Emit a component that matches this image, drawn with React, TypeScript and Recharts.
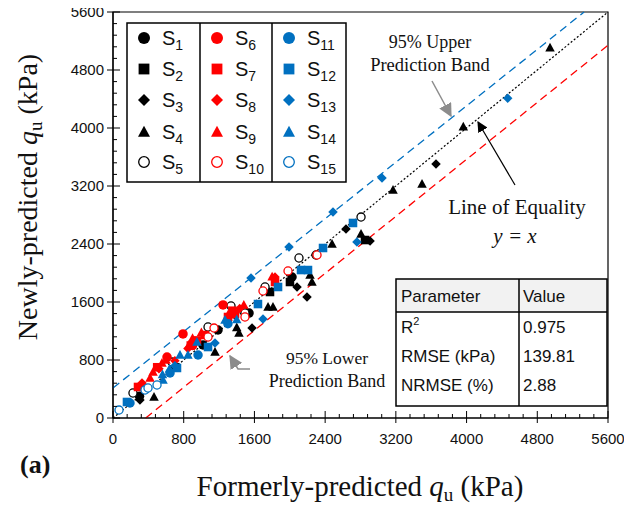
import React from "react";
import {
  ScatterChart,
  Scatter,
  XAxis,
  YAxis,
  ReferenceLine,
  ReferenceArea,
} from "recharts";

// values (kPa): [formerly, newly]
const S1 = [[2025, 1945], [1539, 1448], [1188, 1214], [1018, 1007], [300, 300]];
const S2 = [[2002, 1876], [1776, 1738], [2851, 2455], [700, 700]];
const S3 = [[305, 248], [1573, 1241], [2195, 1669], [2082, 1807], [2636, 2607], [3654, 3503], [2908, 2440]];
const S4 = [
  [464, 290], [1154, 910], [1425, 1172], [1400, 1250], [1754, 1531], [1810, 1531], [2229, 1972],
  [2251, 1876], [2478, 2400], [2806, 2538], [3168, 3145], [3496, 3228], [3963, 4018], [4944, 5108],
];
const S5 = [[226, 345], [667, 772], [1075, 1255], [1335, 1545], [1493, 1448], [1720, 1807], [2104, 2207], [2297, 2248], [2806, 2772]];
const S6 = [[792, 1159], [611, 841], [1245, 1559], [900, 1000]];
const S7 = [[283, 428], [1301, 1393], [1380, 1434], [1833, 1876], [950, 1070], [1040, 1145], [880, 1000], [500, 700], [1350, 1480]];
const S8 = [[328, 483], [848, 960], [1433, 1510], [1833, 1945], [700, 790], [930, 1060], [520, 680]];
const S9 = [[419, 552], [453, 634], [554, 759], [1480, 1560], [900, 1100], [1000, 1180], [1800, 1950], [860, 1010], [600, 800], [1300, 1420]];
const S10 = [[1143, 1241], [1075, 1117], [1493, 1393], [1697, 1752], [1980, 2028], [2308, 2248]];
const S11 = [[192, 207], [645, 621], [962, 869], [1300, 1300]];
const S12 = [[158, 221], [724, 690], [1640, 1572], [1867, 1807], [2127, 2041], [2206, 2041], [2376, 2345], [2715, 2690], [1075, 979]];
const S13 = [[1561, 1931], [1991, 2359], [2489, 2841], [3043, 3310], [4465, 4410], [2760, 2428], [1697, 1366], [1154, 1034], [700, 720]];
const S14 = [[848, 869], [758, 869], [1267, 1352], [1400, 1360], [566, 524], [950, 1048], [560, 600], [640, 680]];
const S15 = [[68, 110], [362, 386], [396, 414], [498, 455]];

const equalityLine = [[0, 0], [5600, 5600]];
const upperBand = [[0, 414], [5330, 5600]];
const lowerBand = [[370, 0], [5600, 5140]];

const tableHead = ["Parameter", "Value"];
const tableParams = ["R", "RMSE (kPa)", "NRMSE (%)"];
const tableValues = ["0.975", "139.81", "2.88"];

const BLACK = "#000000";
const RED = "#ff0000";
const BLUE = "#0070c0";

type Kind = "circle" | "square" | "diamond" | "triangle" | "open";

const series: { name: string; sub: string; data: number[][]; kind: Kind; color: string }[] = [
  { name: "S", sub: "1", data: S1, kind: "circle", color: BLACK },
  { name: "S", sub: "2", data: S2, kind: "square", color: BLACK },
  { name: "S", sub: "3", data: S3, kind: "diamond", color: BLACK },
  { name: "S", sub: "4", data: S4, kind: "triangle", color: BLACK },
  { name: "S", sub: "5", data: S5, kind: "open", color: BLACK },
  { name: "S", sub: "6", data: S6, kind: "circle", color: RED },
  { name: "S", sub: "7", data: S7, kind: "square", color: RED },
  { name: "S", sub: "8", data: S8, kind: "diamond", color: RED },
  { name: "S", sub: "9", data: S9, kind: "triangle", color: RED },
  { name: "S", sub: "10", data: S10, kind: "open", color: RED },
  { name: "S", sub: "11", data: S11, kind: "circle", color: BLUE },
  { name: "S", sub: "12", data: S12, kind: "square", color: BLUE },
  { name: "S", sub: "13", data: S13, kind: "diamond", color: BLUE },
  { name: "S", sub: "14", data: S14, kind: "triangle", color: BLUE },
  { name: "S", sub: "15", data: S15, kind: "open", color: BLUE },
];

const toPts = (arr: number[][]) => arr.map(([x, y]) => ({ x, y }));

const allTicks: number[] = [];
for (let v = 0; v <= 5600; v += 160) allTicks.push(v);

const SANS = "'Liberation Sans', Arial, sans-serif";
const SERIF = "'Liberation Serif', 'Times New Roman', serif";

function Marker({ kind, color, cx, cy, s }: { kind: Kind; color: string; cx: number; cy: number; s: number }) {
  const h = s / 2;
  switch (kind) {
    case "circle":
      return <circle cx={cx} cy={cy} r={h} fill={color} />;
    case "square":
      return <rect x={cx - h * 0.9} y={cy - h * 0.9} width={s * 0.9} height={s * 0.9} fill={color} />;
    case "diamond":
      return (
        <polygon
          points={`${cx},${cy - h} ${cx + h},${cy} ${cx},${cy + h} ${cx - h},${cy}`}
          fill={color}
        />
      );
    case "triangle":
      return (
        <polygon
          points={`${cx},${cy - h * 1.05} ${cx + h},${cy + h * 0.8} ${cx - h},${cy + h * 0.8}`}
          fill={color}
        />
      );
    default:
      return <circle cx={cx} cy={cy} r={h - 0.7} fill="#fff" stroke={color} strokeWidth={1.3} />;
  }
}

function XTick(props: any) {
  const { x, y, payload } = props;
  const v = payload.value;
  const major = v % 800 === 0;
  return (
    <g>
      <line x1={x} x2={x} y1={major ? y + 5 : y} y2={major ? y - 7 : y - 4} stroke={BLACK} strokeWidth={1} />
      {major && (
        <text x={x} y={y + 26} textAnchor="middle" fontFamily={SANS} fontSize={15} fill="#111">
          {v}
        </text>
      )}
    </g>
  );
}

function YTick(props: any) {
  const { x, y, payload } = props;
  const v = payload.value;
  const major = v % 800 === 0;
  return (
    <g>
      <line x1={major ? x - 6 : x} x2={major ? x + 7 : x + 4} y1={y} y2={y} stroke={BLACK} strokeWidth={1} />
      {major && (
        <text x={x - 9} y={y + 5} textAnchor="end" fontFamily={SANS} fontSize={15} fill="#111">
          {v}
        </text>
      )}
    </g>
  );
}

// overlay uses page coordinates minus the 8px body margin
function Overlay() {
  const colX = [119, 192, 264];
  const rowY = [30, 61, 92, 124, 154];
  return (
    <svg
      width={616}
      height={503}
      style={{ position: "absolute", left: 8, top: 8, pointerEvents: "none", overflow: "visible" }}
    >
      <defs>
        <marker id="arrGray" viewBox="0 0 10 10" refX="9" refY="5" markerWidth="9" markerHeight="9" orient="auto">
          <path d="M0,0 L10,5 L0,10 z" fill="#8c8c8c" />
        </marker>
        <marker id="arrBlack" viewBox="0 0 10 10" refX="9" refY="5" markerWidth="9" markerHeight="9" orient="auto">
          <path d="M0,0 L10,5 L0,10 z" fill={BLACK} />
        </marker>
      </defs>

      {/* legend */}
      <rect x={119} y={15} width={219} height={159} fill="#fff" stroke={BLACK} strokeWidth={1.5} />
      <line x1={192} x2={192} y1={15} y2={174} stroke={BLACK} strokeWidth={1.5} />
      <line x1={264} x2={264} y1={15} y2={174} stroke={BLACK} strokeWidth={1.5} />
      {series.map((s, i) => {
        const c = Math.floor(i / 5);
        const r = i % 5;
        const mx = colX[c] + 17;
        const my = rowY[r];
        return (
          <g key={i}>
            <Marker kind={s.kind} color={s.color} cx={mx} cy={my} s={12} />
            <text x={mx + 18} y={my + 7} fontFamily={SANS} fontSize={20} fill="#111">
              {s.name}
              <tspan fontSize={14} dy={5}>
                {s.sub}
              </tspan>
            </text>
          </g>
        );
      })}

      {/* stats table */}
      <rect x={388} y={271} width={211} height={33} fill="#f2f2f2" />
      <rect x={388} y={304} width={211} height={94} fill="#fff" />
      <rect x={388} y={271} width={211} height={127} fill="none" stroke={BLACK} strokeWidth={1.5} />
      <line x1={388} x2={599} y1={304} y2={304} stroke={BLACK} strokeWidth={1.5} />
      <line x1={511} x2={511} y1={271} y2={398} stroke={BLACK} strokeWidth={1.5} />
      <text x={393} y={294} fontFamily={SANS} fontSize={17} fill="#111">{tableHead[0]}</text>
      <text x={515} y={294} fontFamily={SANS} fontSize={17} fill="#111">{tableHead[1]}</text>
      {tableParams.map((p, i) => (
        <g key={p}>
          <text x={393} y={325 + i * 29} fontFamily={SANS} fontSize={17} fill="#111">
            {p}
            {i === 0 && (
              <tspan fontSize={11} dy={-8}>
                2
              </tspan>
            )}
          </text>
          <text x={515} y={325 + i * 29} fontFamily={SANS} fontSize={17} fill="#111">
            {tableValues[i]}
          </text>
        </g>
      ))}

      {/* annotations */}
      <text x={422} y={40} textAnchor="middle" fontFamily={SERIF} fontSize={18} fill="#111">95% Upper</text>
      <text x={422} y={63} textAnchor="middle" fontFamily={SERIF} fontSize={18.5} fill="#111">Prediction Band</text>
      <line x1={424} y1={73} x2={443} y2={108} stroke="#8c8c8c" strokeWidth={1.5} markerEnd="url(#arrGray)" />

      <text x={509} y={206} textAnchor="middle" fontFamily={SERIF} fontSize={21} fill="#111">Line of Equality</text>
      <text x={507} y={235} textAnchor="middle" fontFamily={SERIF} fontSize={21} fontStyle="italic" fill="#111">
        y = x
      </text>
      <line x1={507} y1={177} x2={470} y2={114} stroke={BLACK} strokeWidth={1.2} markerEnd="url(#arrBlack)" />

      <text x={319} y={356} textAnchor="middle" fontFamily={SERIF} fontSize={17.5} fill="#111">95% Lower</text>
      <text x={319} y={379} textAnchor="middle" fontFamily={SERIF} fontSize={18} fill="#111">Prediction Band</text>
      <polyline points="242,361 230,361 222,348" fill="none" stroke="#8c8c8c" strokeWidth={1.5} markerEnd="url(#arrGray)" />

      {/* axis titles */}
      <text transform="translate(29,189) rotate(-90)" textAnchor="middle" fontFamily={SERIF} fontSize={28} fill="#111">
        Newly-predicted <tspan fontStyle="italic">q</tspan>
        <tspan fontSize={19} dy={5}>u</tspan>
        <tspan dy={-5}> (kPa)</tspan>
      </text>
      <text x={352} y={488} textAnchor="middle" fontFamily={SERIF} fontSize={29} fill="#111">
        Formerly-predicted <tspan fontStyle="italic">q</tspan>
        <tspan fontSize={19} dy={5}>u</tspan>
        <tspan dy={-5}> (kPa)</tspan>
      </text>
      <text x={12} y={465} fontFamily={SERIF} fontSize={26} fontWeight="bold" fill="#111">(a)</text>
    </svg>
  );
}

export default function App() {
  return (
    <div style={{ position: "relative", width: 632, height: 511, margin: "-8px 0 0 -8px" }}>
      <ScatterChart width={632} height={511} margin={{ top: 12, right: 24, bottom: 16, left: 8 }}>
        <XAxis
          type="number"
          dataKey="x"
          domain={[0, 5600]}
          ticks={allTicks}
          interval={0}
          tickLine={false}
          tickSize={0}
          tickMargin={0}
          tick={(p: any) => <XTick {...p} />}
          axisLine={{ stroke: BLACK, strokeWidth: 1.2 }}
          height={77}
          allowDataOverflow
        />
        <YAxis
          type="number"
          dataKey="y"
          domain={[0, 5600]}
          ticks={allTicks}
          interval={0}
          tickLine={false}
          tickSize={0}
          tickMargin={0}
          tick={(p: any) => <YTick {...p} />}
          axisLine={{ stroke: BLACK, strokeWidth: 1.2 }}
          width={105}
          allowDataOverflow
        />
        <ReferenceArea x1={0} x2={5600} y1={0} y2={5600} fill="none" stroke={BLACK} strokeWidth={1.2} />
        <ReferenceLine segment={toPts(upperBand)} stroke={BLUE} strokeWidth={1.3} strokeDasharray="8 5" />
        <ReferenceLine segment={toPts(lowerBand)} stroke={RED} strokeWidth={1.3} strokeDasharray="8 5" />
        <ReferenceLine segment={toPts(equalityLine)} stroke={BLACK} strokeWidth={1.2} strokeDasharray="2 2" />
        {series.map((s) => (
          <Scatter
            key={s.name + s.sub}
            data={toPts(s.data)}
            isAnimationActive={false}
            shape={(p: any) => <Marker kind={s.kind} color={s.color} cx={p.cx} cy={p.cy} s={9.5} />}
          />
        ))}
      </ScatterChart>
      <Overlay />
    </div>
  );
}
